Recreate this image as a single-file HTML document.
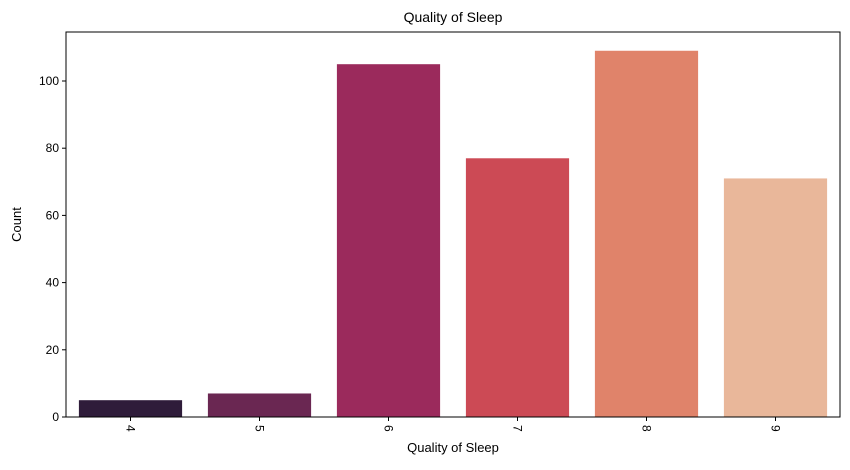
<!DOCTYPE html>
<html><head><meta charset="utf-8"><style>
body{margin:0;background:#fff;font-family:"Liberation Sans",sans-serif}
</style></head><body>
<svg id="chart" width="850" height="465" xmlns="http://www.w3.org/2000/svg" font-family="Liberation Sans, sans-serif"></svg>
<script>
const categories=["4","5","6","7","8","9"];
const counts=[5,7,105,77,109,71];
const colors=["#2f1c3a","#6a2752","#9b2a5c","#cc4a55","#e0836a","#e9b79a"];
const yTicks=[0,20,40,60,80,100];
const NS="http://www.w3.org/2000/svg";
const svg=document.getElementById('chart');
const L=66,R=840,T=32,B=417;
const band=(R-L)/categories.length;
const x=i=>L+band*i+band/2;
const y=v=>B-v*3.36;
function mk(t,a,txt){const e=document.createElementNS(NS,t);for(const k in a)e.setAttribute(k,a[k]);if(txt!==undefined)e.textContent=txt;svg.appendChild(e);return e;}
categories.forEach((c,i)=>{
  const r=mk('rect',{x:x(i)-band*0.4,y:y(counts[i]),width:band*0.8,height:B-y(counts[i]),fill:colors[i]});
  
  
  const tk=mk('line',{x1:x(i),x2:x(i),y1:B,y2:B+4,stroke:'#000'});
  
  
  const t=mk('text',{x:0,y:0,'font-size':12,'text-anchor':'start',transform:`translate(${x(i)-4},${B+8}) rotate(90)`},c);
  
  
});
yTicks.forEach(v=>{
  const tk=mk('line',{x1:L-4,x2:L,y1:y(v),y2:y(v),stroke:'#000'});
  
  
  const t=mk('text',{x:L-7,y:y(v)+4,'font-size':12,'text-anchor':'end'},v);
  
  
});
const fr=mk('rect',{x:L,y:T,width:R-L,height:B-T,fill:'none',stroke:'#000','stroke-width':1});


const ti=mk('text',{x:(L+R)/2,y:T-10,'font-size':14,'text-anchor':'middle'},'Quality of Sleep');


const xt=mk('text',{x:(L+R)/2,y:452,'font-size':13,'text-anchor':'middle'},'Quality of Sleep');


const yt=mk('text',{x:0,y:0,'font-size':13,'text-anchor':'middle',transform:`translate(21,${(T+B)/2}) rotate(-90)`},'Count');


</script>
</body></html>
